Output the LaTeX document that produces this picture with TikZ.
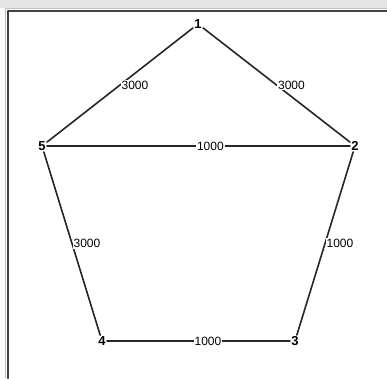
\documentclass[tikz,border=0pt]{standalone}
\usepackage{fontspec}
\setmainfont{Liberation Sans}
\usetikzlibrary{arrows.meta}

\begin{document}
\begin{tikzpicture}[x=1pt,y=-1pt,line cap=round,line join=round,
  vertex/.style={fill=white,inner sep=1.2pt,font=\fontsize{13}{14}\selectfont\bfseries},
  weight/.style={pos=0.5,anchor=west,fill=white,inner sep=0.8pt,font=\fontsize{12}{13}\selectfont},
  edge/.style={line width=1.6pt,draw=black!85}]
\useasboundingbox (0,0) rectangle (387,378);
% window frame
\fill[black!10] (0,0) rectangle (387,8);
\draw[black!25,line width=1pt] (5.5,378) -- (5.5,8.5) -- (387,8.5);
\draw[black!75,line width=2pt] (8,378) -- (8,10.5) -- (387,10.5);
% vertices
\node[vertex] (v1) at (198,24) {1};
\node[vertex] (v2) at (355,146) {2};
\node[vertex] (v3) at (295,341) {3};
\node[vertex] (v4) at (102,341) {4};
\node[vertex] (v5) at (42,146) {5};
% edges
\draw[edge] (v1) -- node[weight] {3000} (v5);
\draw[edge] (v1) -- node[weight] {3000} (v2);
\draw[edge] (v5) -- node[weight,pos=0.49] {1000} (v2);
\draw[edge] (v5) -- node[weight] {3000} (v4);
\draw[edge] (v2) -- node[weight] {1000} (v3);
\draw[edge] (v4) -- node[weight,pos=0.47] {1000} (v3);
\end{tikzpicture}
\end{document}
